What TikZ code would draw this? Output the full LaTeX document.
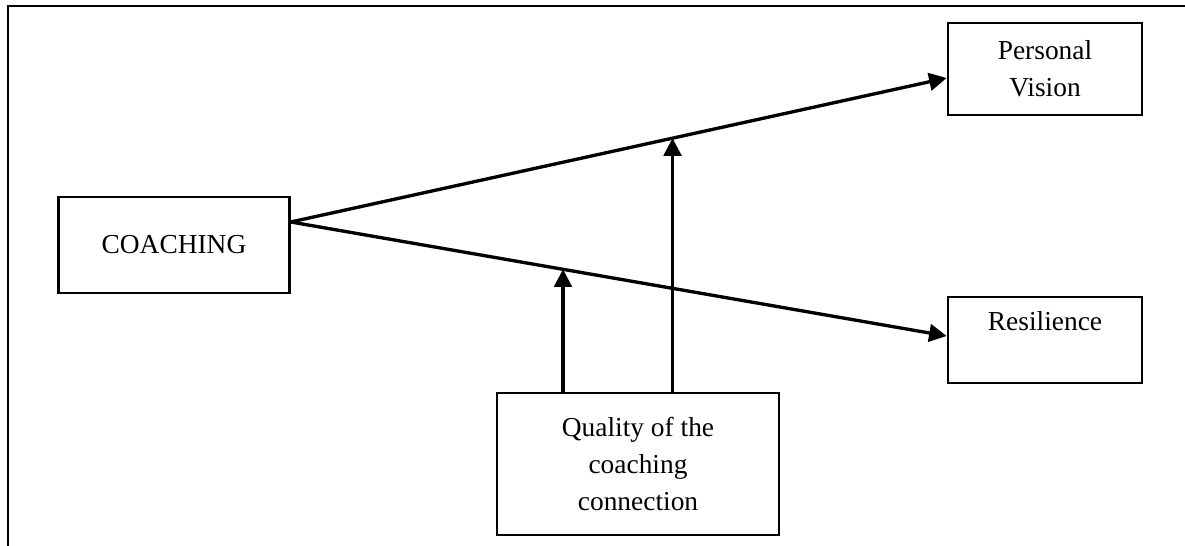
\documentclass[tikz,border=0pt]{standalone}
\usepackage{fontspec}
\setmainfont{Liberation Serif}
\usepackage{tikz}
\usetikzlibrary{arrows.meta,calc}

\tikzset{
    box/.style={draw, line width=1.5pt, align=center, inner sep=0pt,
        font=\fontsize{15.6}{21}\selectfont},
    link/.style={line width=1.9pt, -{Triangle[length=10pt,width=10pt]}}
}

\begin{document}
\begin{tikzpicture}
    \useasboundingbox (0,0) rectangle (23.7,10.92);
    % Frame (top and left only)
    \draw[line width=1.1pt] (23.7,10.8) -- (0.16,10.8) -- (0.16,0);
    % Boxes
    \node[box, minimum width=4.62cm, minimum height=1.92cm] (coach) at (3.48,6.02) {COACHING};
    \node[box, minimum width=3.88cm, minimum height=1.84cm] (vision) at (20.9,9.54) {Personal\\Vision};
    \node[box, minimum width=3.88cm, minimum height=1.72cm, text depth=0.75cm] (resil) at (20.9,4.12) {Resilience};
    \node[box, minimum width=5.64cm, minimum height=2.84cm] (quality) at (12.76,1.64) {Quality of the\\coaching\\connection};
    % Paths from coaching
    \coordinate (src) at ($(coach.east)+(0,0.46)$);
    \draw[link] (src) -- coordinate[pos=0.582] (m1) ($(vision.west)+(0,-0.18)$);
    \draw[link] (src) -- coordinate[pos=0.415] (m2) ($(resil.west)+(0,0.08)$);
    % Moderator arrows
    \draw[link] (quality.north -| m2) -- (m2);
    \draw[link] (quality.north -| m1) -- (m1);
\end{tikzpicture}
\end{document}
